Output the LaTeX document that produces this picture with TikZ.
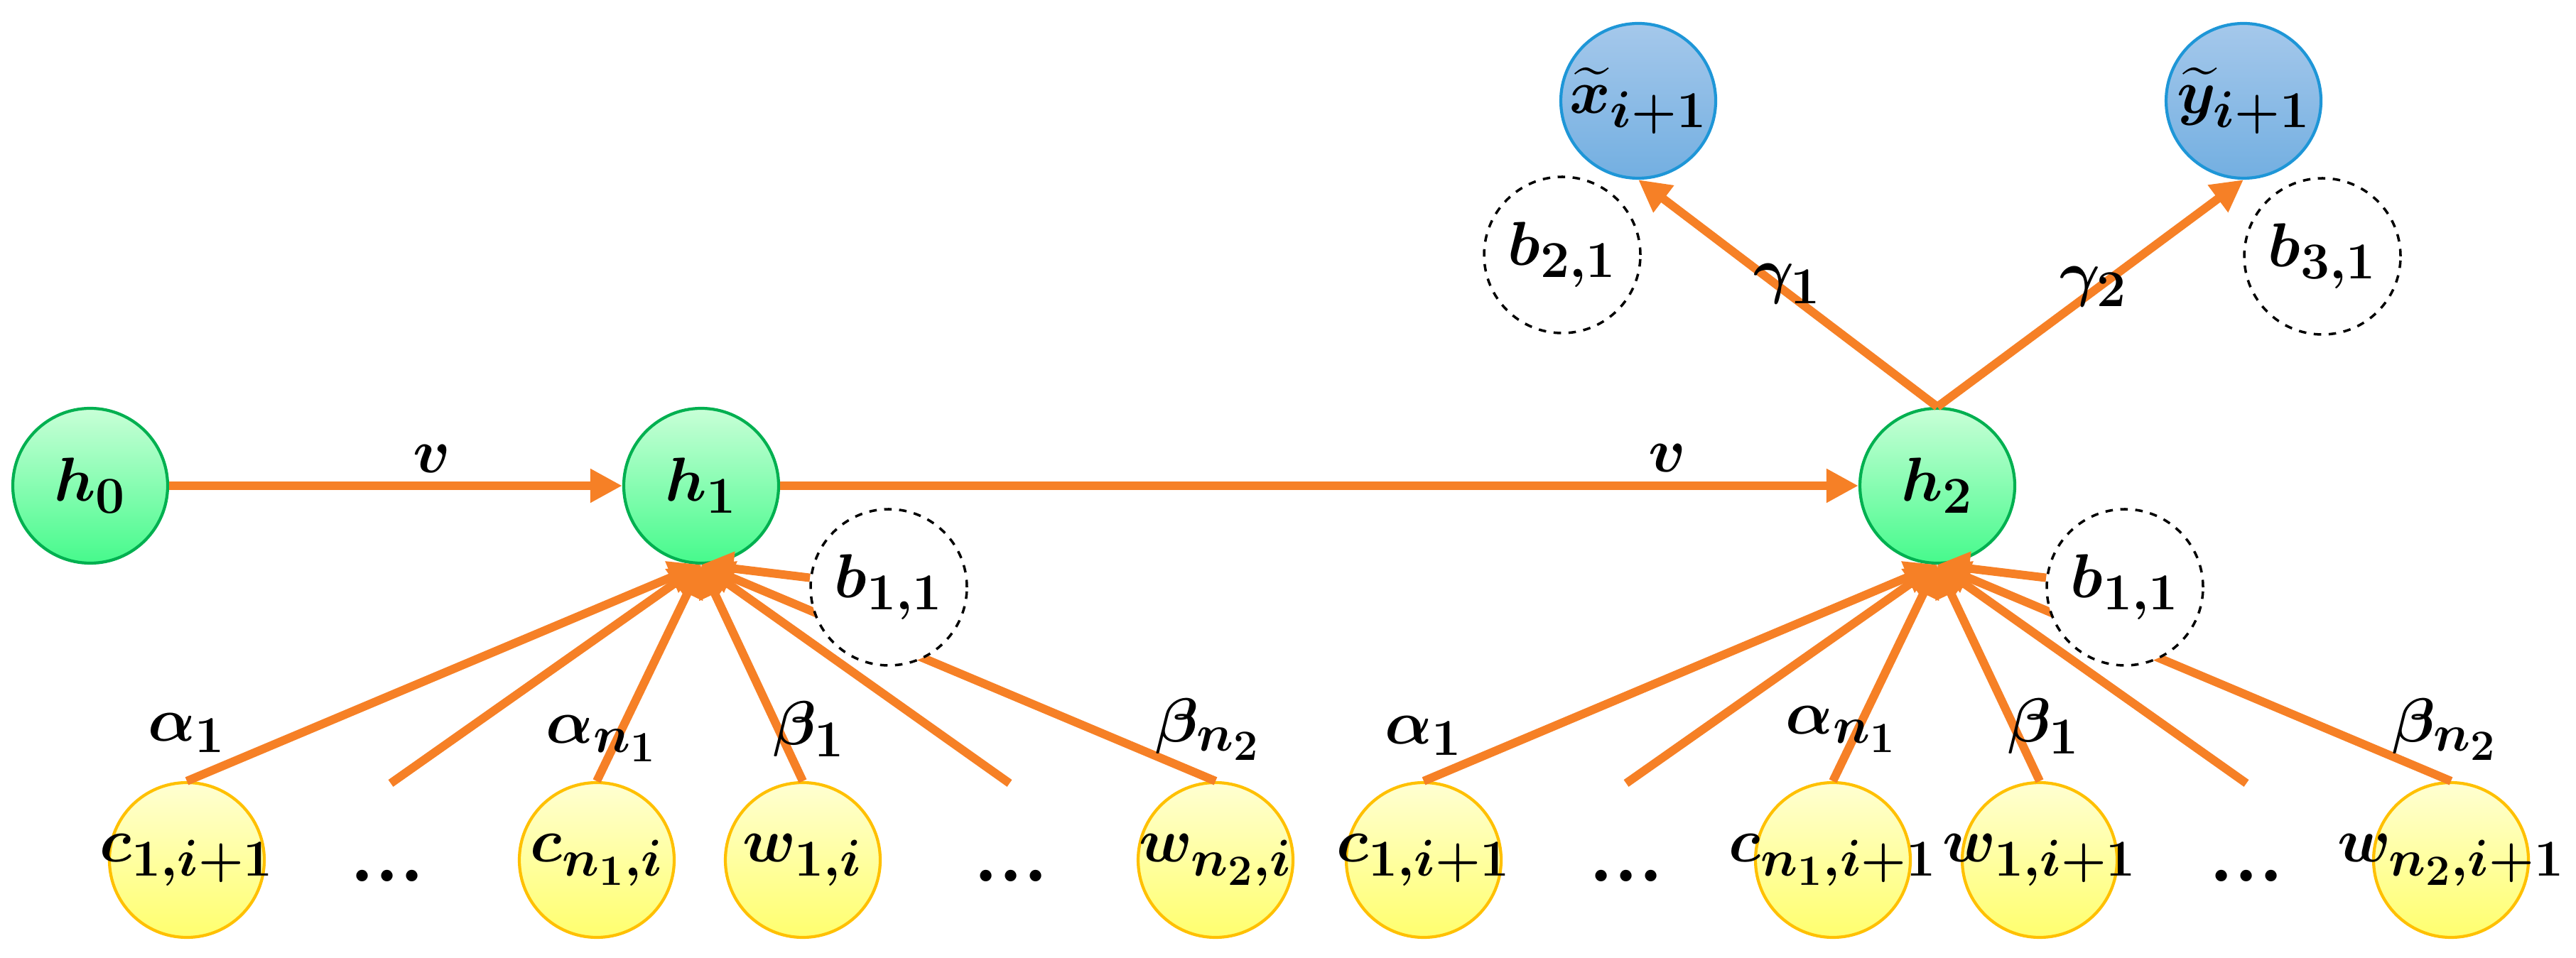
\documentclass[tikz,border=0pt]{standalone}
\usepackage{amsmath,bm}
\usetikzlibrary{arrows.meta}
\definecolor{org}{RGB}{246,128,38}
\definecolor{gb}{RGB}{0,176,80}
\definecolor{yb}{RGB}{255,192,0}
\definecolor{bb}{RGB}{30,150,215}
\begin{document}
\begin{tikzpicture}[
  every node/.style={font=\fontsize{32}{34}\selectfont},
  every label/.style={inner sep=0pt,font=\fontsize{32}{34}\selectfont},
  base/.style={circle,minimum size=2.18cm,inner sep=0pt,line width=1.2pt},
  gn/.style={base,draw=gb,top color={rgb,255:red,200;green,255;blue,215},bottom color={rgb,255:red,70;green,250;blue,140}},
  yn/.style={base,draw=yb,top color={rgb,255:red,255;green,255;blue,210},bottom color={rgb,255:red,255;green,255;blue,110}},
  bn/.style={base,draw=bb,top color={rgb,255:red,165;green,200;blue,235},bottom color={rgb,255:red,115;green,175;blue,225}},
  dn/.style={circle,minimum size=2.2cm,inner sep=0pt,draw=black,dashed,line width=1pt,fill=white},
  ed/.style={draw=org,line width=3.4pt},
  ar/.style={ed,-{Triangle[length=0.45cm,width=0.45cm]}},
  lb/.style={inner sep=0pt}]
\useasboundingbox (0,0) rectangle (36.26,13.48);
% nodes
\node[gn,label=center:{$\bm{h_0}$}] (h0) at (1.27,6.64) {};
\node[gn,label=center:{$\bm{h_1}$}] (h1) at (9.87,6.64) {};
\node[gn,label=center:{$\bm{h_2}$}] (h2) at (27.27,6.64) {};
\node[bn,label=center:{$\widetilde{\bm{x}}_{\bm{i+1}}$}] (xt) at (23.06,12.06) {};
\node[bn,label=center:{$\widetilde{\bm{y}}_{\bm{i+1}}$}] (yt) at (31.58,12.06) {};
\node[yn,label=center:{$\bm{c_{1,i+1}}$}] (c1a) at (2.63,1.37) {};
\node[yn,label=center:{$\bm{c_{n_1,i}}$}] (cna) at (8.40,1.37) {};
\node[yn,label=center:{$\bm{w_{1,i}}$}] (w1a) at (11.30,1.37) {};
\node[yn,label=center:{$\bm{w_{n_2,i}}$}] (wna) at (17.11,1.37) {};
\node[yn,label=center:{$\bm{c_{1,i+1}}$}] (c1b) at (20.04,1.37) {};
\node[yn,label=center:{$\bm{c_{n_1,i+1}}$}] (cnb) at (25.80,1.37) {};
\node[yn,label=center:{$\bm{w_{1,i+1}}$}] (w1b) at (28.71,1.37) {};
\node[yn,label=center:{$\bm{w_{n_2,i+1}}$}] (wnb) at (34.50,1.37) {};
\node[lb] (d1) at (5.45,1.15) {\textbf{...}};
\node[lb] (d2) at (14.23,1.15) {\textbf{...}};
\node[lb] (d3) at (22.89,1.15) {\textbf{...}};
\node[lb] (d4) at (31.62,1.15) {\textbf{...}};
\coordinate (e1) at (5.50,2.45);
\coordinate (e2) at (14.21,2.45);
\coordinate (e3) at (22.89,2.45);
\coordinate (e4) at (31.62,2.45);
% edges
\draw[ar] (h0) -- (h1);
\draw[ar] (h1) -- (h2);
\draw[ar] (h2.north) -- (xt.south);
\draw[ar] (h2.north) -- (yt.south);
\foreach \s in {c1a.north,e1,cna.north,w1a.north,e2,wna.north}{\draw[ar] (\s) -- (h1.south);}
\foreach \s in {c1b.north,e3,cnb.north,w1b.north,e4,wnb.north}{\draw[ar] (\s) -- (h2.south);}
\node[dn] (b1a) at (12.51,5.21) {$\bm{b_{1,1}}$};
\node[dn] (b1b) at (29.91,5.21) {$\bm{b_{1,1}}$};
\node[dn] (b2) at (21.99,9.89) {$\bm{b_{2,1}}$};
\node[dn] (b3) at (32.69,9.87) {$\bm{b_{3,1}}$};
\draw[ar] (b1a) -- (h1.south);
\draw[ar] (b1b) -- (h2.south);
% labels
\node[lb] (v1) at (6.08,7.02) {$\bm{v}$};
\node[lb] (v2) at (23.47,7.03) {$\bm{v}$};
\node[lb] (g1) at (25.16,9.48) {$\bm{\gamma_1}$};
\node[lb] (g2) at (29.47,9.44) {$\bm{\gamma_2}$};
\node[lb] (la1) at (2.63,3.16) {$\bm{\alpha_1}$};
\node[lb] (la2) at (8.47,3.08) {$\bm{\alpha_{n_1}}$};
\node[lb] (la3) at (11.39,3.21) {$\bm{\beta_1}$};
\node[lb] (la4) at (17.0,3.21) {$\bm{\beta_{n_2}}$};
\node[lb] (lb1) at (20.04,3.12) {$\bm{\alpha_1}$};
\node[lb] (lb2) at (25.92,3.21) {$\bm{\alpha_{n_1}}$};
\node[lb] (lb3) at (28.77,3.25) {$\bm{\beta_1}$};
\node[lb] (lb4) at (34.41,3.21) {$\bm{\beta_{n_2}}$};
\end{tikzpicture}
\end{document}
